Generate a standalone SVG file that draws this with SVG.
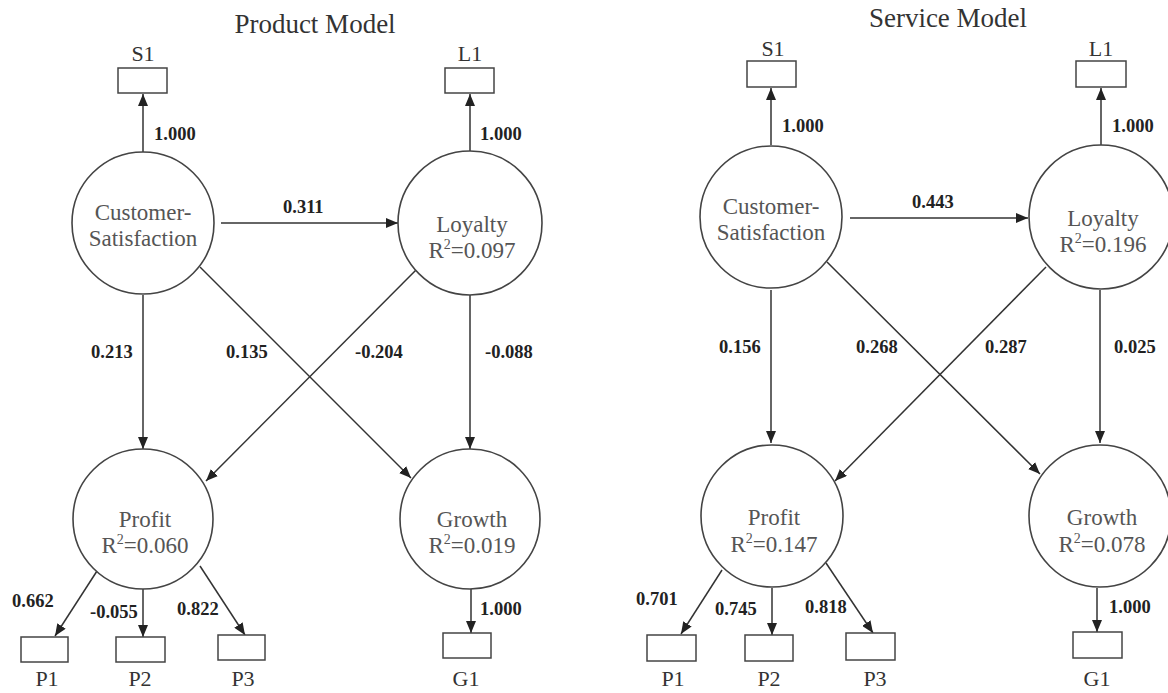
<svg xmlns="http://www.w3.org/2000/svg" width="1168" height="693" viewBox="0 0 1168 693">
  <defs>
    <marker id="arrow" viewBox="0 0 12 10" refX="12" refY="5" markerWidth="12" markerHeight="10" markerUnits="userSpaceOnUse" orient="auto">
      <path d="M0,0 L12,5 L0,10 z" fill="#222"/>
    </marker>
    <style>
      .title { font-family: "Liberation Serif", "Times New Roman", serif; font-size: 27px; fill: #333; text-anchor: middle; }
      .node { fill: #fff; stroke: #444; stroke-width: 1.6; }
      .box { fill: #fff; stroke: #444; stroke-width: 1.5; }
      .lbl { font-family: "Liberation Serif", "Times New Roman", serif; font-size: 23px; fill: #555; text-anchor: middle; }
      .ind { font-family: "Liberation Serif", "Times New Roman", serif; font-size: 22px; fill: #333; text-anchor: middle; }
      .coef { font-family: "Liberation Serif", "Times New Roman", serif; font-size: 18.5px; font-weight: bold; fill: #222; }
      .sup { font-size: 14px; }
      .edge { stroke: #333; stroke-width: 1.5; fill: none; marker-end: url(#arrow); }
    </style>
  </defs>
  <rect width="1168" height="693" fill="#fff"/>

  <!-- ===== Product Model ===== -->
  <text class="title" x="315" y="33">Product Model</text>

  <g id="product-connectors">
    <line class="edge" x1="143" y1="152" x2="143" y2="94"/>
    <line class="edge" x1="470" y1="152" x2="470" y2="94"/>
    <line class="edge" x1="221" y1="223" x2="398" y2="223"/>
    <line class="edge" x1="143" y1="295" x2="143" y2="449"/>
    <line class="edge" x1="470" y1="295" x2="470" y2="449"/>
    <line class="edge" x1="200" y1="267" x2="411" y2="478"/>
    <line class="edge" x1="416" y1="270" x2="206" y2="481"/>
    <line class="edge" x1="97" y1="571" x2="55" y2="636"/>
    <line class="edge" x1="143" y1="589" x2="143" y2="637"/>
    <line class="edge" x1="200" y1="566" x2="245" y2="635"/>
    <line class="edge" x1="471" y1="589" x2="471" y2="633"/>
  </g>
  <g id="product-coefficients">
    <text class="coef" x="154" y="140">1.000</text>
    <text class="coef" x="480" y="140">1.000</text>
    <text class="coef" x="283" y="213">0.311</text>
    <text class="coef" x="91" y="358">0.213</text>
    <text class="coef" x="226" y="358">0.135</text>
    <text class="coef" x="355" y="358">-0.204</text>
    <text class="coef" x="485" y="358">-0.088</text>
    <text class="coef" x="12" y="607">0.662</text>
    <text class="coef" x="90" y="618">-0.055</text>
    <text class="coef" x="177" y="615">0.822</text>
    <text class="coef" x="480" y="615">1.000</text>
  </g>

  <g id="p-s1">
    <rect class="box" x="118" y="68" width="49" height="25"/>
    <text class="ind" x="143" y="61">S1</text>
  </g>
  <g id="p-l1">
    <rect class="box" x="445" y="68" width="49" height="25"/>
    <text class="ind" x="470" y="61">L1</text>
  </g>
  <g id="p-satisfaction">
    <circle class="node" cx="143" cy="223" r="71"/>
    <text class="lbl" x="143" y="220">Customer-</text>
    <text class="lbl" x="143" y="246">Satisfaction</text>
  </g>
  <g id="p-loyalty">
    <circle class="node" cx="470" cy="223" r="72"/>
    <text class="lbl" x="472" y="232">Loyalty</text>
    <text class="lbl" x="472" y="258">R<tspan class="sup" dy="-9">2</tspan><tspan dy="9">=0.097</tspan></text>
  </g>
  <g id="p-profit">
    <circle class="node" cx="143" cy="519" r="70"/>
    <text class="lbl" x="145" y="527">Profit</text>
    <text class="lbl" x="145" y="553">R<tspan class="sup" dy="-9">2</tspan><tspan dy="9">=0.060</tspan></text>
  </g>
  <g id="p-growth">
    <circle class="node" cx="470" cy="519" r="70"/>
    <text class="lbl" x="472" y="527">Growth</text>
    <text class="lbl" x="472" y="553">R<tspan class="sup" dy="-9">2</tspan><tspan dy="9">=0.019</tspan></text>
  </g>
  <g id="p-p1">
    <rect class="box" x="21" y="637" width="47" height="25"/>
    <text class="ind" x="47" y="686">P1</text>
  </g>
  <g id="p-p2">
    <rect class="box" x="116" y="637" width="49" height="25"/>
    <text class="ind" x="140" y="686">P2</text>
  </g>
  <g id="p-p3">
    <rect class="box" x="218" y="635" width="47" height="25"/>
    <text class="ind" x="243" y="686">P3</text>
  </g>
  <g id="p-g1">
    <rect class="box" x="443" y="633" width="48" height="25"/>
    <text class="ind" x="466" y="686">G1</text>
  </g>

  <!-- ===== Service Model ===== -->
  <text class="title" x="948" y="27">Service Model</text>

  <g id="service-connectors">
    <line class="edge" x1="771" y1="145" x2="771" y2="88"/>
    <line class="edge" x1="1101" y1="145" x2="1101" y2="88"/>
    <line class="edge" x1="850" y1="218" x2="1028" y2="218"/>
    <line class="edge" x1="771" y1="290" x2="771" y2="443"/>
    <line class="edge" x1="1100" y1="290" x2="1100" y2="443"/>
    <line class="edge" x1="827" y1="262" x2="1040" y2="474"/>
    <line class="edge" x1="1046" y1="267" x2="835" y2="481"/>
    <line class="edge" x1="722" y1="570" x2="681" y2="634"/>
    <line class="edge" x1="772" y1="588" x2="772" y2="635"/>
    <line class="edge" x1="826" y1="563" x2="873" y2="633"/>
    <line class="edge" x1="1097" y1="588" x2="1097" y2="632"/>
  </g>
  <g id="service-coefficients">
    <text class="coef" x="782" y="132">1.000</text>
    <text class="coef" x="1112" y="132">1.000</text>
    <text class="coef" x="912" y="208">0.443</text>
    <text class="coef" x="719" y="353">0.156</text>
    <text class="coef" x="856" y="353">0.268</text>
    <text class="coef" x="985" y="353">0.287</text>
    <text class="coef" x="1114" y="353">0.025</text>
    <text class="coef" x="636" y="605">0.701</text>
    <text class="coef" x="715" y="615">0.745</text>
    <text class="coef" x="805" y="613">0.818</text>
    <text class="coef" x="1109" y="613">1.000</text>
  </g>

  <g id="s-s1">
    <rect class="box" x="747" y="61" width="49" height="26"/>
    <text class="ind" x="773" y="56">S1</text>
  </g>
  <g id="s-l1">
    <rect class="box" x="1076" y="61" width="50" height="26"/>
    <text class="ind" x="1101" y="56">L1</text>
  </g>
  <g id="s-satisfaction">
    <circle class="node" cx="771" cy="217" r="71"/>
    <text class="lbl" x="771" y="214">Customer-</text>
    <text class="lbl" x="771" y="240">Satisfaction</text>
  </g>
  <g id="s-loyalty">
    <circle class="node" cx="1101" cy="217" r="72"/>
    <text class="lbl" x="1103" y="226">Loyalty</text>
    <text class="lbl" x="1103" y="252">R<tspan class="sup" dy="-9">2</tspan><tspan dy="9">=0.196</tspan></text>
  </g>
  <g id="s-profit">
    <circle class="node" cx="772" cy="516" r="71"/>
    <text class="lbl" x="774" y="525">Profit</text>
    <text class="lbl" x="774" y="552">R<tspan class="sup" dy="-9">2</tspan><tspan dy="9">=0.147</tspan></text>
  </g>
  <g id="s-growth">
    <circle class="node" cx="1100" cy="516" r="71"/>
    <text class="lbl" x="1102" y="525">Growth</text>
    <text class="lbl" x="1102" y="552">R<tspan class="sup" dy="-9">2</tspan><tspan dy="9">=0.078</tspan></text>
  </g>
  <g id="s-p1">
    <rect class="box" x="647" y="635" width="49" height="26"/>
    <text class="ind" x="673" y="686">P1</text>
  </g>
  <g id="s-p2">
    <rect class="box" x="745" y="635" width="48" height="26"/>
    <text class="ind" x="769" y="686">P2</text>
  </g>
  <g id="s-p3">
    <rect class="box" x="846" y="633" width="49" height="27"/>
    <text class="ind" x="875" y="686">P3</text>
  </g>
  <g id="s-g1">
    <rect class="box" x="1073" y="632" width="49" height="26"/>
    <text class="ind" x="1097" y="686">G1</text>
  </g>
</svg>
